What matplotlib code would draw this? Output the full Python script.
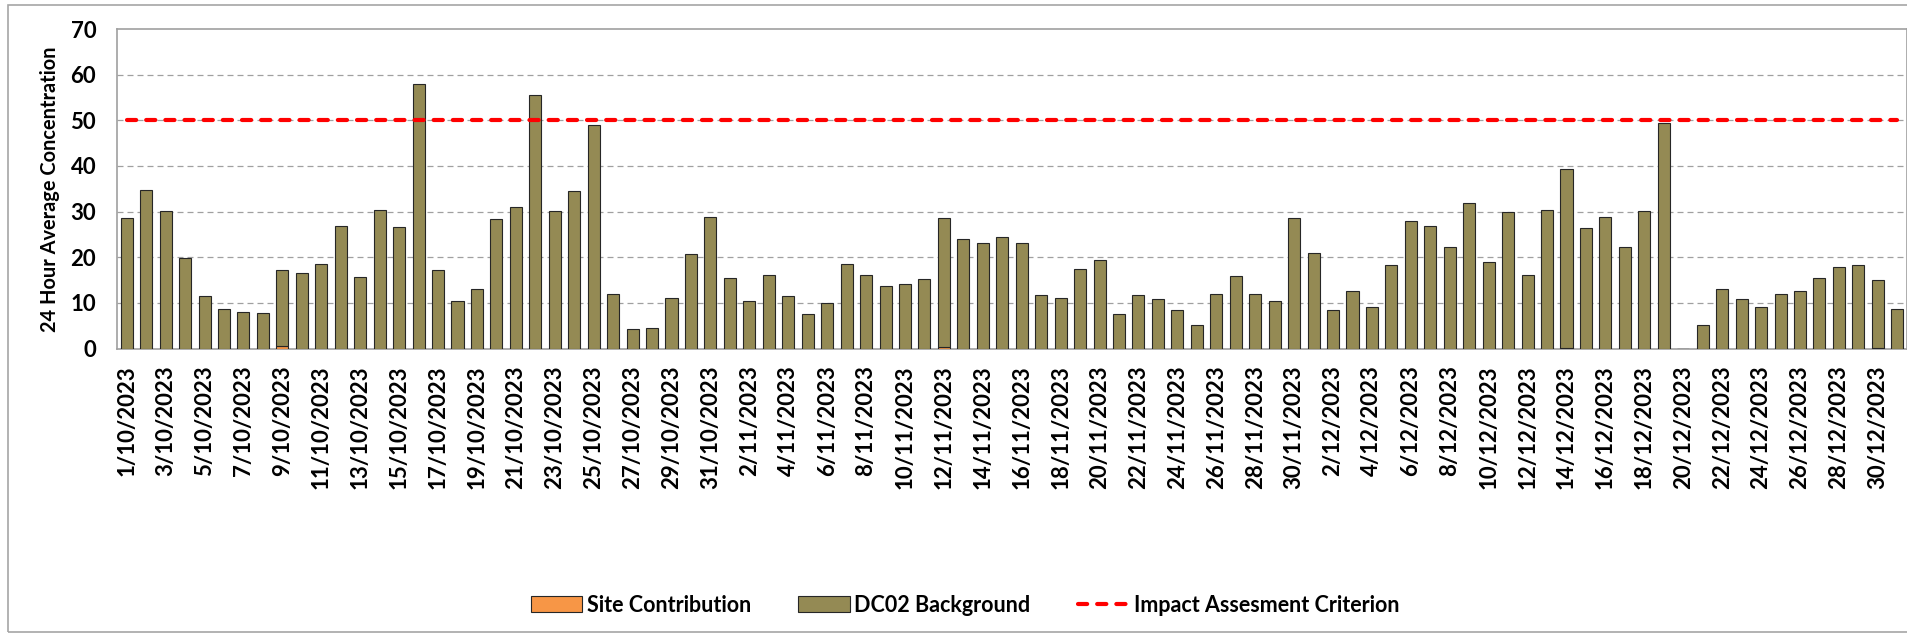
import pandas as pd
import matplotlib
matplotlib.use('Agg')
import matplotlib.pyplot as plt
from matplotlib.patches import Rectangle

plt.rcParams['font.family'] = ['Lato', 'DejaVu Sans']
plt.rcParams['font.weight'] = 'bold'

# daily dates, 1 Oct - 31 Dec 2023
dates = pd.date_range('2023-10-01', '2023-12-31', freq='D')
date_labels = [f'{d.day}/{d.month}/{d.year}' for d in dates]

# total 24 hour average
total_oct = [28.5, 34.8, 30.2, 19.9, 11.4, 8.6, 8.1, 7.8, 17.1, 16.6,
             18.5, 26.9, 15.7, 30.4, 26.6, 58.0, 17.1, 10.5, 13.0, 28.3,
             31.0, 55.5, 30.2, 34.5, 48.9, 11.9, 4.3, 4.5, 11.1, 20.7, 28.8]
total_nov = [15.5, 10.3, 16.0, 11.4, 7.5, 10.0, 18.5, 16.0, 13.6, 14.1,
             15.2, 28.5, 23.9, 23.1, 24.4, 23.1, 11.7, 11.1, 17.4, 19.3,
             7.5, 11.7, 10.8, 8.4, 5.1, 11.9, 15.8, 11.9, 10.3, 28.5]
total_dec = [20.9, 8.4, 12.5, 9.2, 18.2, 28.0, 26.9, 22.3, 31.8, 19.0,
             29.9, 16.0, 30.4, 39.4, 26.4, 28.8, 22.3, 30.2, 49.5, 0.0,
             5.1, 13.0, 10.8, 9.2, 11.9, 12.5, 15.5, 17.9, 18.2, 14.9, 8.6]
totals = total_oct + total_nov + total_dec

# site contribution only shows on a few days
site = [0.0] * len(totals)
site[8] = 0.5    # 9/10
site[42] = 0.4   # 12/11
site[74] = 0.2   # 14/12
site[90] = 0.2   # 30/12
background = [t - s for t, s in zip(totals, site)]

criterion = 50

W, H = 1908, 636
fig = plt.figure(figsize=(W / 100, H / 100), dpi=100)
ax = fig.add_axes([117 / W, 1 - 348.5 / H, (1907 - 117) / W, (348.5 - 29) / H])

x = list(range(len(totals)))
b1 = ax.bar(x, site, width=0.62, color='#F79646', edgecolor='#262626', linewidth=0.8,
            label='Site Contribution', zorder=3)
b2 = ax.bar(x, background, bottom=site, width=0.62, color='#948A54', edgecolor='#262626',
            linewidth=0.8, label='DC02 Background', zorder=3)
ln, = ax.plot([x[0], x[-1]], [criterion, criterion], color='#FF0000', lw=3,
              dashes=(2.2, 2.4), dash_capstyle='round', label='Impact Assesment Criterion', zorder=4)

ax.set_xlim(-0.5, len(totals) - 0.5)
ax.set_ylim(0, 70)
ax.set_yticks(range(0, 71, 10))
ax.set_xticks(x[::2])
ax.set_xticklabels(date_labels[::2], rotation=90, fontsize=16, fontweight='bold')
ax.tick_params(axis='x', length=0, pad=12)
ax.tick_params(axis='y', length=0, pad=15, labelsize=16)

for v in range(10, 70, 10):
    ax.axhline(v, color='#A0A0A0', lw=0.9, dashes=(4.8, 3.2), zorder=1)
for s in ax.spines.values():
    s.set_color('#A0A0A0')
    s.set_linewidth(1.2)

fig.text(50 / W, 1 - 189.5 / H, '24 Hour Average Concentration', rotation=90,
         ha='center', va='center', fontsize=14.4, fontweight='bold')

fig.legend([b1, b2, ln], ['Site Contribution', 'DC02 Background', 'Impact Assesment Criterion'],
           loc='center', bbox_to_anchor=(965 / W, 1 - 605 / H), ncol=3, frameon=False,
           fontsize=15.5, handlelength=2.4, handleheight=0.8, handletextpad=0.2,
           columnspacing=2.2)

# chart area border
fig.patches.append(Rectangle((8 / W, 4 / H), 1.0, 1 - 9 / H, transform=fig.transFigure,
                             fill=False, edgecolor='#A6A6A6', lw=1.2))

fig.savefig('out.png', dpi=100)
